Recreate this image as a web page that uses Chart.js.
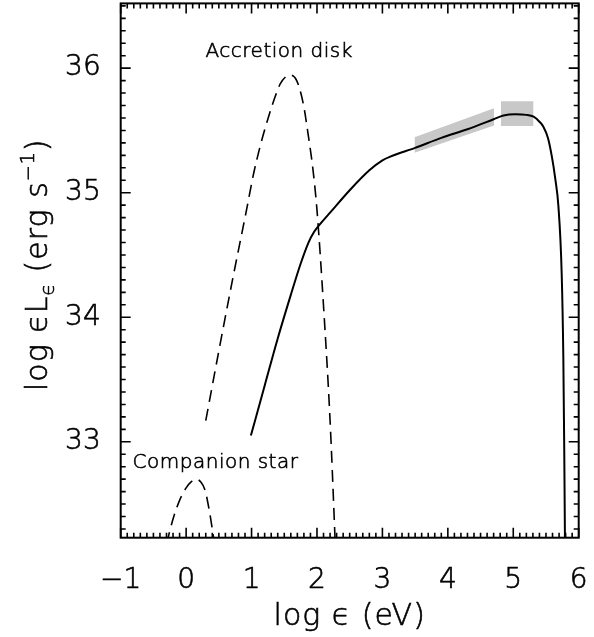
<!DOCTYPE html>
<html>
<head>
<meta charset="utf-8">
<script src="https://cdn.jsdelivr.net/npm/chart.js@4.4.1/dist/chart.umd.min.js"></script>
<style>
  html, body { margin: 0; padding: 0; background: #fff; }
  #wrap { width: 594px; height: 637px; position: relative; }
</style>
</head>
<body>
<div id="wrap"><canvas id="sed"></canvas></div>
<script>
// Axis setup
const X_MIN = -1, X_MAX = 6;
const Y_MIN = 32.23, Y_MAX = 36.52;
const X_TICKS = [-1, 0, 1, 2, 3, 4, 5, 6];
const Y_TICKS = [33, 34, 35, 36];

// Total spectrum (solid)
const totalX = [0.99, 1.20, 1.40, 1.60, 1.75, 1.87, 1.95, 2.05, 2.20, 2.50, 2.80, 3.00, 3.12,
  3.50, 3.90, 4.30, 4.70, 4.85, 5.03, 5.20, 5.31, 5.40, 5.46, 5.53, 5.59, 5.64, 5.69,
  5.74, 5.765, 5.78, 5.79, 5.795];
const totalY = [33.05, 33.45, 33.83, 34.18, 34.43, 34.60, 34.68, 34.75, 34.84, 35.02, 35.18, 35.26, 35.29,
  35.36, 35.44, 35.51, 35.59, 35.62, 35.63, 35.625, 35.61, 35.57, 35.53, 35.44, 35.29, 35.12, 34.89,
  34.35, 33.68, 32.88, 32.22, 32.0];

// Accretion disk (dashed)
const diskX = [0.30, 0.50, 0.72, 0.93, 1.03, 1.13, 1.26, 1.36, 1.44, 1.52, 1.59, 1.69, 1.79, 1.87, 1.94, 2.00, 2.10, 2.20, 2.27, 2.30];
const diskY = [33.17, 33.73, 34.33, 34.88, 35.15, 35.37, 35.61, 35.77, 35.875, 35.93, 35.945, 35.90, 35.715, 35.45, 35.18, 34.86, 34.09, 33.17, 32.30, 31.90];

// Companion star (dashed)
const starX = [-0.30, -0.20, -0.10, 0.00, 0.08, 0.15, 0.22, 0.29, 0.35, 0.40, 0.44];
const starY = [32.18, 32.38, 32.53, 32.63, 32.68, 32.70, 32.68, 32.61, 32.46, 32.30, 32.15];

// Observed bands (grey)
const bandX = [3.49, 4.705];
const bandTop = [35.445, 35.678];
const bandBottom = [35.32, 35.54];
const boxX = [4.81, 5.31];
const boxTop = [35.735, 35.735];
const boxBottom = [35.535, 35.535];

const FONT = '"DejaVu Sans", "Liberation Sans", sans-serif';
const GREY = '#c8c8c8';
const STROKE = 0.6;

const pts = (xs, ys) => xs.map((x, i) => ({ x: x, y: ys[i] }));

const boxPlugin = {
    id: 'boxPlugin',
    afterDatasetsDraw(chart) {
        const { ctx, chartArea: a, scales: { x, y } } = chart;
        ctx.save();
        ctx.strokeStyle = '#000';
        ctx.lineWidth = 1.6;
        ctx.beginPath();
        // x ticks, top and bottom, inward
        for (let i = Math.ceil(X_MIN * 10); i <= Math.floor(X_MAX * 10); i++) {
            const px = x.getPixelForValue(i / 10);
            const len = i % 10 === 0 ? 10 : 5;
            ctx.moveTo(px, a.bottom); ctx.lineTo(px, a.bottom - len);
            ctx.moveTo(px, a.top); ctx.lineTo(px, a.top + len);
        }
        // y ticks, left and right, inward
        for (let i = Math.ceil(Y_MIN * 10); i <= Math.floor(Y_MAX * 10); i++) {
            const py = y.getPixelForValue(i / 10);
            const len = i % 10 === 0 ? 10 : 5;
            ctx.moveTo(a.left, py); ctx.lineTo(a.left + len, py);
            ctx.moveTo(a.right, py); ctx.lineTo(a.right - len, py);
        }
        ctx.stroke();
        ctx.lineWidth = 2;
        ctx.strokeRect(a.left, a.top, a.right - a.left, a.bottom - a.top);

        // text helper: thin font, lightly stroked so it reads black
        ctx.fillStyle = '#000';
        ctx.lineWidth = STROKE;
        const txt = (t, px, py) => { ctx.fillText(t, px, py); ctx.strokeText(t, px, py); };

        // curve labels
        ctx.textAlign = 'center';
        ctx.textBaseline = 'alphabetic';
        ctx.letterSpacing = '0.5px';
        ctx.font = `300 20px ${FONT}`;
        txt('Accretion disk', x.getPixelForValue(1.422), y.getPixelForValue(36.089));
        txt('Companion star', x.getPixelForValue(0.449), y.getPixelForValue(32.788));

        // x axis title
        ctx.letterSpacing = '1px';
        ctx.font = `300 30px ${FONT}`;
        txt('log \u03F5 (eV)', (a.left + a.right) / 2, 625);

        // y axis title with sub/superscript
        ctx.translate(47, 391);
        ctx.rotate(-Math.PI / 2);
        ctx.textAlign = 'left';
        let cx = 0;
        const part = (t, size, dy) => {
            ctx.font = `300 ${size}px ${FONT}`;
            txt(t, cx, dy);
            cx += ctx.measureText(t).width;
        };
        part('log \u03F5L', 30, 0);
        part('\u03F5', 19, 7);
        part(' (erg s', 30, 0);
        part('\u22121', 19, -13);
        part(')', 30, 0);
        ctx.restore();
    }
};

function initChart() {
    const ctx = document.getElementById('sed');
    new Chart(ctx, {
        type: 'line',
        data: {
            datasets: [
                {
                    data: pts(totalX, totalY),
                    borderColor: '#000',
                    borderWidth: 2,
                    pointRadius: 0,
                    fill: false,
                    cubicInterpolationMode: 'monotone'
                },
                {
                    data: pts(diskX, diskY),
                    borderColor: '#000',
                    borderWidth: 1.6,
                    borderDash: [12, 7],
                    pointRadius: 0,
                    fill: false,
                    cubicInterpolationMode: 'monotone'
                },
                {
                    data: pts(starX, starY),
                    borderColor: '#000',
                    borderWidth: 1.6,
                    borderDash: [12, 7],
                    pointRadius: 0,
                    fill: false,
                    cubicInterpolationMode: 'monotone'
                },
                {
                    data: pts(bandX, bandTop),
                    borderWidth: 0,
                    borderColor: 'rgba(0,0,0,0)',
                    backgroundColor: GREY,
                    pointRadius: 0,
                    fill: '+1'
                },
                {
                    data: pts(bandX, bandBottom),
                    borderWidth: 0,
                    borderColor: 'rgba(0,0,0,0)',
                    pointRadius: 0,
                    fill: false
                },
                {
                    data: pts(boxX, boxTop),
                    borderWidth: 0,
                    borderColor: 'rgba(0,0,0,0)',
                    backgroundColor: GREY,
                    pointRadius: 0,
                    fill: '+1'
                },
                {
                    data: pts(boxX, boxBottom),
                    borderWidth: 0,
                    borderColor: 'rgba(0,0,0,0)',
                    pointRadius: 0,
                    fill: false
                }
            ]
        },
        options: {
            responsive: true,
            maintainAspectRatio: false,
            animation: false,
            layout: { padding: { top: 3.4, right: 15.3, left: 0, bottom: 0 } },
            plugins: {
                legend: { display: false },
                tooltip: { enabled: false },
                filler: { drawTime: 'beforeDatasetsDraw' }
            },
            scales: {
                x: {
                    type: 'linear',
                    min: X_MIN,
                    max: X_MAX,
                    grid: { display: false },
                    border: { display: false },
                    afterBuildTicks: s => { s.ticks = X_TICKS.map(v => ({ value: v })); },
                    afterFit: s => { s.height = 99.3; s.paddingLeft = 0; s.paddingRight = 0; },
                    ticks: {
                        color: '#000',
                        padding: 18,
                        maxRotation: 0,
                        textStrokeColor: '#000',
                        textStrokeWidth: STROKE,
                        font: { family: FONT, size: 28, weight: 300 },
                        callback: v => String(v).replace('-', '\u2212')
                    }
                },
                y: {
                    min: Y_MIN,
                    max: Y_MAX,
                    grid: { display: false },
                    border: { display: false },
                    afterBuildTicks: s => { s.ticks = Y_TICKS.map(v => ({ value: v })); },
                    afterFit: s => { s.width = 120.7; s.paddingTop = 0; s.paddingBottom = 0; },
                    ticks: {
                        color: '#000',
                        padding: 12,
                        textStrokeColor: '#000',
                        textStrokeWidth: STROKE,
                        font: { family: FONT, size: 28, weight: 300 },
                        callback: v => String(v)
                    }
                }
            }
        },
        plugins: [boxPlugin]
    });
}

document.addEventListener('DOMContentLoaded', initChart);
</script>
</body>
</html>
